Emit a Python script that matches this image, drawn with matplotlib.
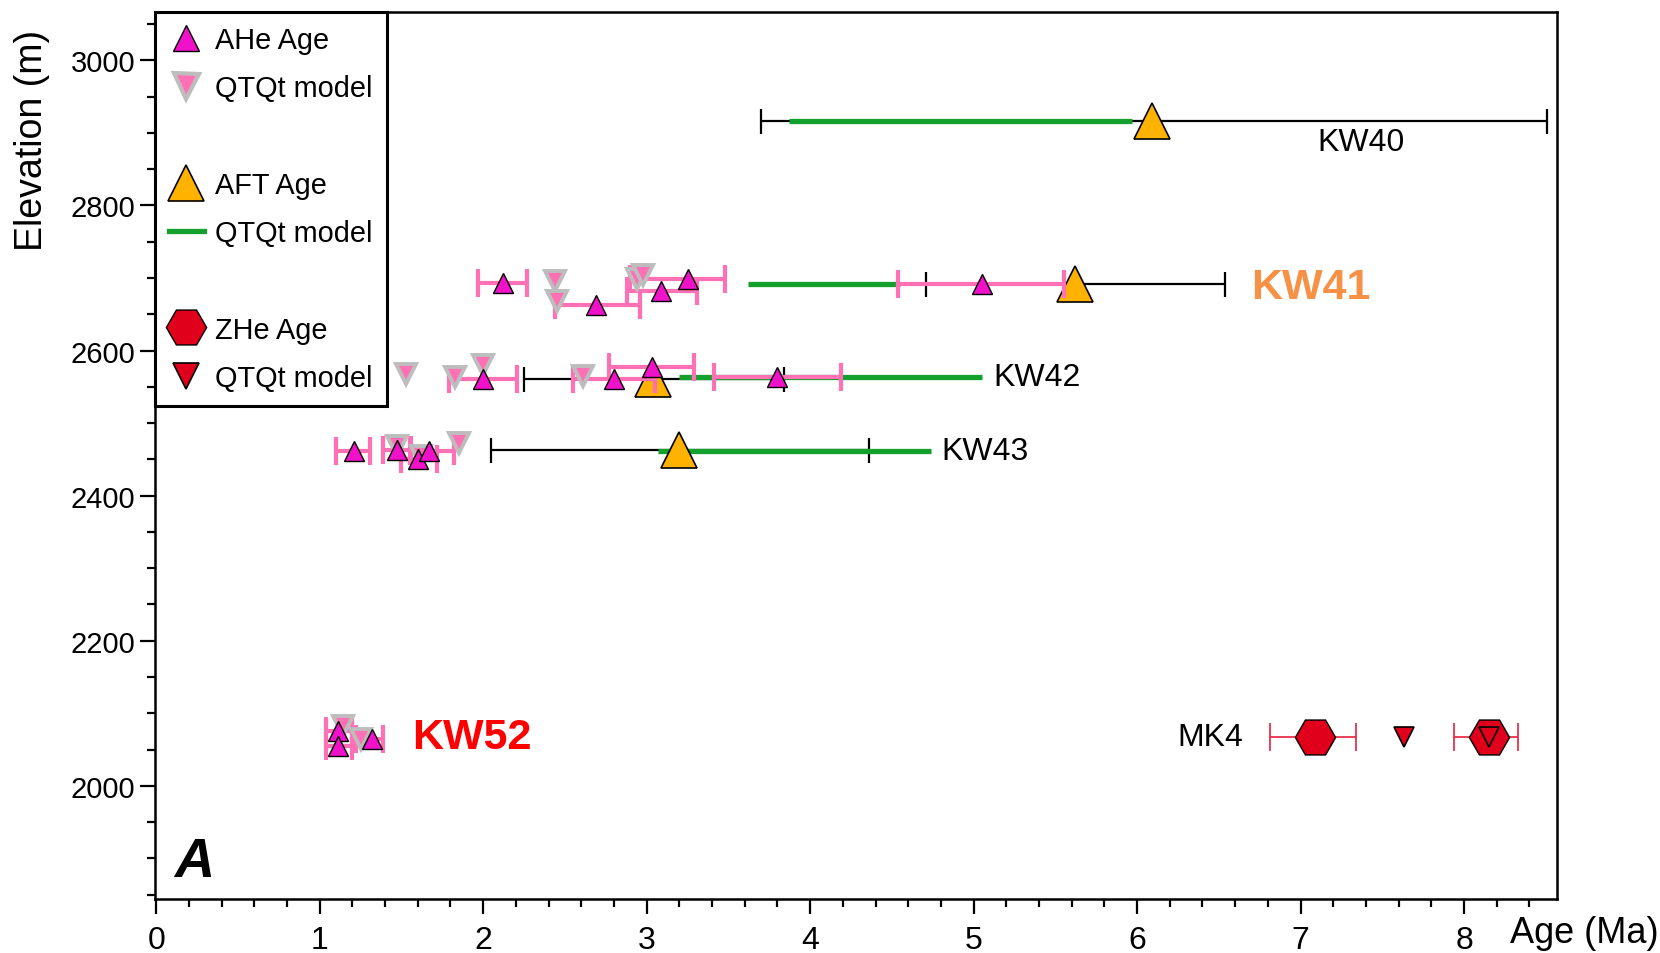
import matplotlib.pyplot as plt
from matplotlib.lines import Line2D
from matplotlib.ticker import MultipleLocator

# colores
MAGENTA = '#f012c8'
PINK = '#ff70b4'
GREY = '#bdbdbd'
ORANGE = '#ffb300'
GREEN = '#14a02c'
RED = '#e0001b'

NARROW = ['Liberation Sans Narrow', 'Liberation Sans']
plt.rcParams['font.family'] = ['Liberation Sans', 'DejaVu Sans']

# AHe ages (Ma), lower / upper bounds and elevations (m)
ahe_age = [2.12, 2.69, 3.09, 3.25, 5.05,
           2.00, 2.80, 3.03, 3.80,
           1.21, 1.47, 1.60, 1.67,
           1.11, 1.11, 1.32]
ahe_lo = [1.97, 2.44, 2.88, 2.90, 4.54,
          1.79, 2.55, 2.77, 3.41,
          1.10, 1.39, 1.50, 1.55,
          1.04, 1.04, 1.22]
ahe_hi = [2.27, 2.96, 3.31, 3.48, 5.55,
          2.21, 3.05, 3.29, 4.19,
          1.31, 1.56, 1.72, 1.82,
          1.20, 1.20, 1.39]
ahe_elev = [2693, 2663, 2682, 2699, 2692,
            2561, 2561, 2578, 2563,
            2461, 2463, 2450, 2461,
            2075, 2055, 2064]

# QTQt model for AHe
qahe_age = [2.44, 2.45, 2.94, 2.98,
            1.53, 1.83, 2.00, 2.61,
            1.47, 1.62, 1.85,
            1.14, 1.25]
qahe_elev = [2696, 2669, 2699, 2704,
             2568, 2563, 2580, 2565,
             2469, 2455, 2473,
             2083, 2064]

# AFT ages
aft_age = [6.09, 5.62, 3.04, 3.20]
aft_lo = [3.70, 4.71, 2.25, 2.05]
aft_hi = [8.51, 6.54, 3.84, 4.36]
aft_elev = [2917, 2692, 2561, 2463]

# QTQt model for AFT (ranges)
qaft_start = [3.87, 3.62, 3.20, 3.07]
qaft_end = [5.97, 4.55, 5.05, 4.74]
qaft_elev = [2917, 2692, 2563, 2461]

# ZHe ages (MK4)
zhe_age = [7.09, 8.15]
zhe_lo = [6.81, 7.94]
zhe_hi = [7.34, 8.33]
zhe_elev = [2067, 2067]
qzhe_age = [7.63, 8.15]
qzhe_elev = [2067, 2067]

# etiquetas de muestras
names = ['KW40', 'KW42', 'KW43', 'MK4']
name_x = [7.37, 5.39, 5.07, 6.45]
name_y = [2888, 2563, 2461, 2067]
big_names = ['KW41', 'KW52']
big_x = [7.06, 1.93]
big_y = [2688, 2067]
big_colors = ['#f79146', '#ff0000']

fig = plt.figure(figsize=(16.6, 9.54), dpi=100)
ax = fig.add_axes([0.0931, 0.0566, 0.845, 0.930])

# AFT error bars and QTQt ranges
ax.errorbar(aft_age, aft_elev,
            xerr=[[a - l for a, l in zip(aft_age, aft_lo)],
                  [h - a for a, h in zip(aft_age, aft_hi)]],
            fmt='none', ecolor='k', elinewidth=1.6, capsize=9, capthick=1.6, zorder=1)
ax.hlines(qaft_elev, qaft_start, qaft_end, colors=GREEN, lw=3.8, zorder=2)
ax.plot(aft_age, aft_elev, '^', ls='none', ms=26, mfc=ORANGE, mec='k', mew=1.2, zorder=2.5)

# AHe
ax.errorbar(ahe_age, ahe_elev,
            xerr=[[a - l for a, l in zip(ahe_age, ahe_lo)],
                  [h - a for a, h in zip(ahe_age, ahe_hi)]],
            fmt='none', ecolor=PINK, elinewidth=3, capsize=10, capthick=3, zorder=3)
ax.plot(qahe_age, qahe_elev, 'v', ls='none', ms=15, mfc=PINK, mec=GREY, mew=2.8, zorder=4)
ax.plot(ahe_age, ahe_elev, '^', ls='none', ms=15, mfc=MAGENTA, mec='k', mew=1, zorder=5)

# ZHe
ax.errorbar(zhe_age, zhe_elev,
            xerr=[[a - l for a, l in zip(zhe_age, zhe_lo)],
                  [h - a for a, h in zip(zhe_age, zhe_hi)]],
            fmt='none', ecolor='#e8203c', elinewidth=1.2, capsize=10, capthick=1.2, zorder=3)
ax.plot(zhe_age, zhe_elev, 'H', ls='none', ms=29, mfc=RED, mec='k', mew=1, zorder=4)
ax.plot(qzhe_age, qzhe_elev, 'v', ls='none', ms=14, mfc=RED, mec='k', mew=1.2, zorder=5)

for n, x, y in zip(names, name_x, name_y):
    ax.text(x, y, n, fontsize=23, family=NARROW, ha='center', va='center')
for n, x, y, c in zip(big_names, big_x, big_y, big_colors):
    ax.text(x, y, n, fontsize=31, family=NARROW, fontweight='bold', color=c,
            ha='center', va='center')
ax.text(0.23, 1895, 'A', fontsize=40, family=NARROW, fontweight='bold',
        fontstyle='italic', ha='center', va='center')

ax.set_xlim(-0.01, 8.57)
ax.set_ylim(1844, 3067)
ax.xaxis.set_major_locator(MultipleLocator(1))
ax.xaxis.set_minor_locator(MultipleLocator(0.2))
ax.yaxis.set_major_locator(MultipleLocator(200))
ax.yaxis.set_minor_locator(MultipleLocator(50))
ax.tick_params(which='major', direction='out', length=11, width=1.6, pad=3)
ax.tick_params(which='minor', direction='out', length=5.5, width=1.6)
ax.tick_params(axis='y', labelsize=21)
ax.tick_params(axis='x', labelsize=23, pad=8)
for lab in ax.get_xticklabels():
    lab.set_family(NARROW)
for sp in ax.spines.values():
    sp.set_linewidth(1.8)

ax.set_ylabel('Elevation (m)', fontsize=27)
ax.yaxis.set_label_coords(-0.0875, 0.856)
ax.yaxis.label.set_va('center')
ax.yaxis.label.set_ha('center')
ax.set_xlabel('Age (Ma)', fontsize=26, family=NARROW)
ax.xaxis.set_label_coords(1.019, -0.038)
ax.xaxis.label.set_va('center')

blank = Line2D([], [], ls='none')
handles = [
    Line2D([], [], marker='^', ls='none', ms=19, mfc=MAGENTA, mec='k', mew=1),
    Line2D([], [], marker='v', ls='none', ms=18, mfc=PINK, mec=GREY, mew=3),
    blank,
    Line2D([], [], marker='^', ls='none', ms=26, mfc=ORANGE, mec='k', mew=1.2),
    Line2D([], [], color=GREEN, lw=3.8),
    blank,
    Line2D([], [], marker='H', ls='none', ms=29, mfc=RED, mec='k', mew=1),
    Line2D([], [], marker='v', ls='none', ms=19, mfc=RED, mec='k', mew=1.2),
]
labels = ['AHe Age', 'QTQt model', '', 'AFT Age', 'QTQt model', '', 'ZHe Age', 'QTQt model']
leg = ax.legend(handles, labels, loc='upper left', borderaxespad=0, fontsize=20.8,
                fancybox=False, framealpha=1, edgecolor='k', handlelength=1.2,
                handletextpad=0.4, labelspacing=0.7, borderpad=0.5)
leg.get_frame().set_linewidth(2.2)
leg.set_zorder(10)

plt.savefig('out.png', dpi=100)
plt.close()
